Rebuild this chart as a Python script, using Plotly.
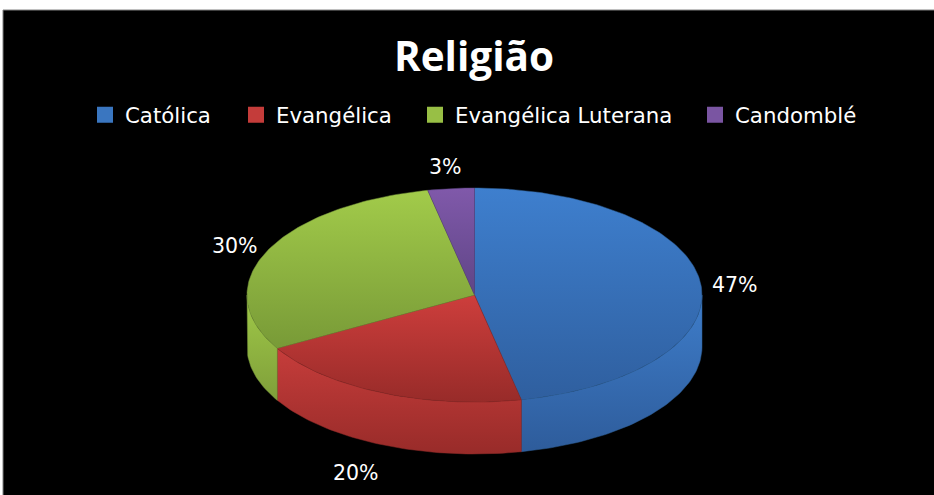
import math
import plotly.graph_objects as go

# ---- data ----
categories = ["Católica", "Evangélica", "Evangélica Luterana", "Candomblé"]
values = [46.7, 20.0, 30.0, 3.3]
title_text = "Religião"

# ---- styles (light at top, dark at bottom) ----
top_colors = [("#3e7fce", "#2f5f9f"), ("#cd3e3c", "#982b29"), ("#a2cb4a", "#789a37"), ("#8059aa", "#5f4586")]
wall_colors = [("#3e7dca", "#2e5c9b"), ("#c63d3b", "#982b29"), ("#a0c948", "#7f9f3a"), ("#8059aa", "#5f4586")]
edge_colors = ["#2f6099", "#8f2a28", "#76963a", "#5a4280"]
legend_colors = ["#3a76c0", "#c43c3a", "#98bf45", "#7a55a2"]
legend_widths = [106, 134, 235, 130]
label_shift = [(34, 1), (-25.5, 28), (-31.5, -5), (-5.5, -22)]
FONT = "DejaVu Sans"
TITLE_FONT = "Open Sans"

# ---- projection of the pie ----
CX, CY, RX, RY, DEPTH = 474.5, 295, 227.5, 107, 52
W, H = 934, 495
LEFT, TOP = 3, 10


def px(a):
    return CX + RX * math.sin(a)


def py(a):
    return CY - RY * math.cos(a)


def arc(a0, a1):
    n = max(2, int(abs(a1 - a0) / 0.02))
    return [a0 + (a1 - a0) * i / n for i in range(n + 1)]


def gradient(pair):
    # the y axis runs downwards, so the scale is given bottom-of-shape first
    return dict(type="vertical", colorscale=[[0, pair[1]], [1, pair[0]]])


total = sum(values)
starts, a = [], 0.0
for v in values:
    starts.append(a)
    a += 2 * math.pi * v / total
ends = starts[1:] + [2 * math.pi]

fig = go.Figure()

# side walls (only the front half of the rim shows)
for i, name in enumerate(categories):
    a0, a1 = max(starts[i], math.pi / 2), min(ends[i], 3 * math.pi / 2)
    if a1 <= a0:
        continue
    pts = arc(a0, a1)
    xs = [px(t) for t in pts] + [px(t) for t in reversed(pts)]
    ys = [py(t) for t in pts] + [py(t) + DEPTH for t in reversed(pts)]
    fig.add_trace(go.Scatter(x=xs + xs[:1], y=ys + ys[:1], mode="lines", fill="toself",
                             fillgradient=gradient(wall_colors[i]),
                             line=dict(color=edge_colors[i], width=0.5),
                             showlegend=False, hoverinfo="skip"))

# top faces
for i, name in enumerate(categories):
    pts = arc(starts[i], ends[i])
    xs = [CX] + [px(t) for t in pts] + [CX]
    ys = [CY] + [py(t) for t in pts] + [CY]
    fig.add_trace(go.Scatter(x=xs, y=ys, mode="lines", fill="toself",
                             fillgradient=gradient(top_colors[i]),
                             line=dict(color=edge_colors[i], width=0.5),
                             showlegend=False, name=name, hoverinfo="name"))

# legend entries
for i, name in enumerate(categories):
    fig.add_trace(go.Scatter(x=[None], y=[None], mode="markers", name=name,
                             marker=dict(symbol="square", size=16, color=legend_colors[i]),
                             legendwidth=legend_widths[i]))

# percent labels, anchored on each slice's middle angle
for i, v in enumerate(values):
    mid = (starts[i] + ends[i]) / 2
    wall = DEPTH if math.pi / 2 < mid < 3 * math.pi / 2 else 0
    fig.add_annotation(x=px(mid), y=py(mid) + wall, text=f"{round(100 * v / total)}%",
                       showarrow=False, xshift=label_shift[i][0], yshift=-label_shift[i][1],
                       font=dict(family=FONT, size=20.5, color="white"))

fig.update_layout(
    width=W, height=H, margin=dict(l=LEFT, r=0, t=TOP, b=0, pad=0),
    paper_bgcolor="white", plot_bgcolor="black",
    title=dict(text=f"<b>{title_text}</b>", x=474 / W, xanchor="center", y=1 - 57 / H, yanchor="middle",
               font=dict(family=TITLE_FONT, size=40.5, color="white")),
    legend=dict(orientation="h", x=(85 - LEFT) / (W - LEFT), xanchor="left", y=1 - (115 - TOP) / (H - TOP), yanchor="middle",
                font=dict(family=FONT, size=21.3, color="white"), bgcolor="rgba(0,0,0,0)",
                itemsizing="trace", itemclick=False, itemdoubleclick=False),
    xaxis=dict(visible=False, range=[LEFT, W], fixedrange=True),
    yaxis=dict(visible=False, range=[H, TOP], fixedrange=True),
    shapes=[dict(type="rect", xref="paper", yref="paper", x0=0, x1=1.01, y0=-0.01, y1=1,
                 line=dict(color="#808080", width=1), layer="above")],
)
fig.write_html("out.html", config={"displayModeBar": False},
               post_script="document.body.style.margin='0';document.documentElement.style.overflow='hidden';")
